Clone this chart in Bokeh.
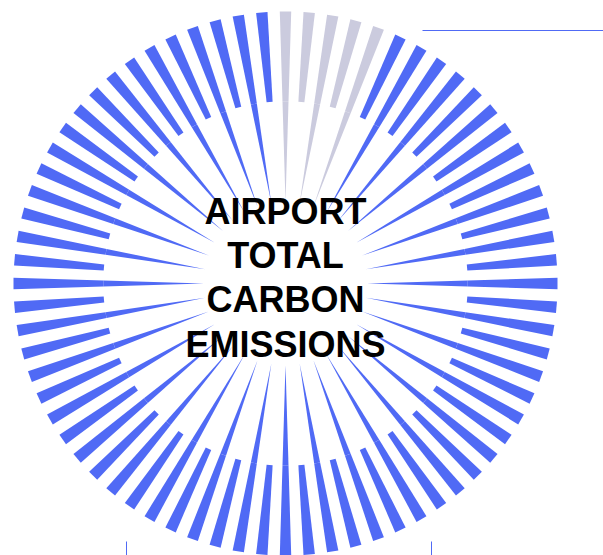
import math
from bokeh.plotting import figure
from bokeh.models import Range1d, ColumnDataSource
from bokeh.core.properties import value
from bokeh.embed import file_html
from bokeh.resources import INLINE

# ---- data -------------------------------------------------------------
# 72 radial bars, clockwise from 12 o'clock
bar_ids = [f"B{i + 1:02d}" for i in range(72)]
# outer end of each bar (relative units, 100 = full radius)
outer_vals = [
    100, 100, 100, 100, 100, 100, 100, 100, 100, 100, 100, 100,
    100, 100, 100, 100, 100, 100, 100, 100, 100, 100, 100, 100,
    100, 100, 100, 100, 100, 100, 100, 100, 100, 100, 100, 100,
    100, 100, 100, 100, 100, 100, 100, 100, 100, 100, 100, 100,
    100, 100, 100, 100, 100, 100, 100, 100, 100, 100, 100, 100,
    100, 100, 100, 100, 100, 100, 100, 100, 100, 100, 100, 100,
]
# start of the outer segment
mid_vals = [
    67, 67, 67, 67, 67, 67, 67, 67, 67, 67, 67, 67,
    67, 67, 67, 67, 67, 67, 67, 67, 67, 67, 67, 67,
    67, 67, 67, 67, 67, 67, 67, 67, 67, 67, 67, 67,
    67, 67, 67, 67, 67, 67, 67, 67, 67, 67, 67, 67,
    67, 67, 67, 67, 67, 67, 67, 67, 67, 67, 67, 67,
    67, 67, 67, 67, 67, 67, 67, 67, 67, 67, 67, 67,
]
# start of the inner (core) segment; None = no core segment
core_vals = [
    30, None, 30, None, 30, None, 30, None, 30, None, 30, None,
    30, None, 30, None, 30, None, 30, None, 30, None, 30, None,
    30, None, 30, None, 30, None, 30, None, 30, None, 30, None,
    30, None, 30, None, 30, None, 30, None, 30, None, 30, None,
    30, None, 30, None, 30, None, 30, None, 30, None, 30, None,
    30, None, 30, None, 30, None, 30, None, 30, None, 30, None,
]
highlight = [
    True, True, True, True, True, False, False, False, False, False, False, False,
    False, False, False, False, False, False, False, False, False, False, False, False,
    False, False, False, False, False, False, False, False, False, False, False, False,
    False, False, False, False, False, False, False, False, False, False, False, False,
    False, False, False, False, False, False, False, False, False, False, False, False,
    False, False, False, False, False, False, False, False, False, False, False, False,
]
title_lines = ["AIRPORT", "TOTAL", "CARBON", "EMISSIONS"]

# ---- styles / scales -------------------------------------------------
BLUE = "#506AF5"
GREY = "#CBCBDE"
R_SCALE = 2.72          # px per relative unit
STEP = 360.0 / len(bar_ids)
BAND = 0.06             # angular band (rad) of each bar
PAD = 4.9               # constant linear padding (px)


def bar_shape(phi_deg, v0, v1):
    """Polygon for a padded radial bar between relative values v0 and v1."""
    phi = math.radians(phi_deg)
    ux, uy = math.sin(phi), math.cos(phi)
    px, py = math.cos(phi), -math.sin(phi)
    r0, r1 = v0 * R_SCALE, v1 * R_SCALE
    h0 = max(r0 * BAND - PAD, 0) / 2
    h1 = max(r1 * BAND - PAD, 0) / 2
    xs = [ux * r0 + px * h0, ux * r1 + px * h1, ux * r1 - px * h1, ux * r0 - px * h0]
    ys = [uy * r0 + py * h0, uy * r1 + py * h1, uy * r1 - py * h1, uy * r0 - py * h0]
    return xs, ys


angles = [STEP * i for i in range(len(bar_ids))]
colors = [GREY if h else BLUE for h in highlight]

oxs, oys, ocs = [], [], []
for i in range(len(bar_ids)):
    xs, ys = bar_shape(angles[i], mid_vals[i], outer_vals[i])
    oxs.append(xs); oys.append(ys); ocs.append(colors[i])
    if core_vals[i] is not None:
        xs, ys = bar_shape(angles[i], core_vals[i], mid_vals[i])
        oxs.append(xs); oys.append(ys); ocs.append(colors[i])

src = ColumnDataSource(dict(xs=oxs, ys=oys, c=ocs))

p = figure(width=603, height=555, output_backend="svg", toolbar_location=None,
           x_range=Range1d(-285, 318), y_range=Range1d(-272, 283),
           min_border=0, outline_line_color=None, background_fill_color="white",
           border_fill_color="white")
p.axis.visible = False
p.grid.visible = False

p.patches(xs="xs", ys="ys", fill_color="c", line_color=None, source=src)

# decorative guide lines
p.line(x=[137, 330], y=[253, 253], line_color=BLUE, line_width=1)
p.segment(x0=[-159, 146], y0=[-258, -258], x1=[-159, 146], y1=[-280, -280],
          line_color=BLUE, line_width=1)

ys = [72, 28, -16, -61]
p.text(x=[0] * 4, y=ys, text=title_lines, text_align="center",
       text_baseline="middle", text_font=value("Liberation Sans"),
       text_font_style="bold", text_font_size="36px", text_color="black")

open("out.html", "w").write(file_html(p, INLINE))
